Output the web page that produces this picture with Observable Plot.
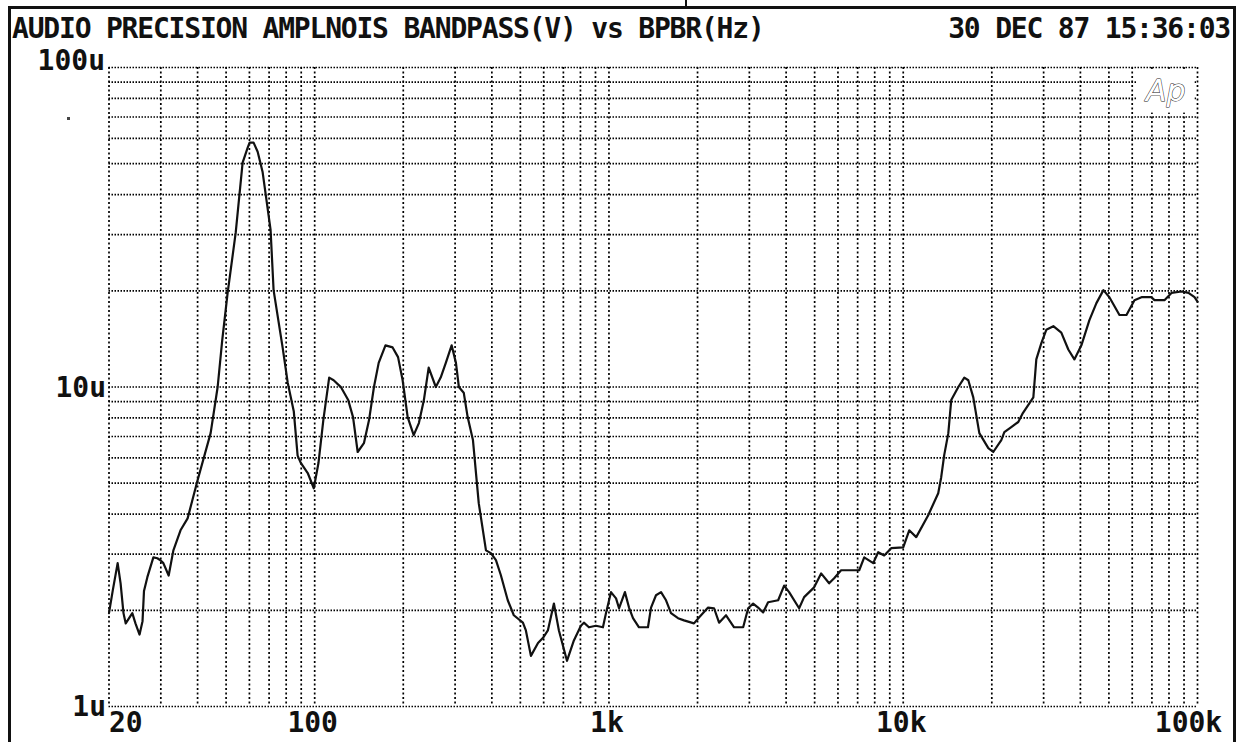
<!DOCTYPE html>
<html>
<head>
<meta charset="utf-8">
<script src="https://cdn.jsdelivr.net/npm/d3@7"></script>
<script src="https://cdn.jsdelivr.net/npm/@observablehq/plot@0.6"></script>
<style>
  html, body { margin: 0; padding: 0; background: #fff; }
  #wrap { position: relative; width: 1239px; height: 742px; overflow: hidden; background: #fff; }
  #chart { position: absolute; left: 0; top: 0; }
  .hdr { position: absolute; font-family: "DejaVu Sans Mono", monospace; font-weight: bold;
         font-size: 28px; line-height: 28px; letter-spacing: -1.2px; color: #111; white-space: pre; }
  #frame { position: absolute; left: 8px; top: 6px; width: 1222px; height: 760px;
           border: 3px solid #111; border-bottom: none; }
  #topmark { position: absolute; left: 685px; top: 0; width: 2px; height: 7px; background: #111; }
  #dot { position: absolute; left: 67px; top: 117px; width: 3px; height: 3px; background: #444; }
  svg text.lbl { letter-spacing: -1.2px; }
</style>
</head>
<body>
<div id="wrap">
  <div id="chart"></div>
  <div id="frame"></div>
  <div id="topmark"></div>
  <div id="dot"></div>
  <div class="hdr" id="title" style="left:12px; top:15px;">AUDIO PRECISION AMPLNOIS BANDPASS(V) vs BPBR(Hz)</div>
  <div class="hdr" id="date" style="right:9px; top:15px;">30 DEC 87 15:36:03</div>
</div>
<script>
// Frequency (Hz) of each trace point
const freqHz = [
  20, 20.6, 21.4, 21.9, 22.4, 22.8, 24.0, 24.6, 25.4, 26.0,
  26.3, 27.0, 28.3, 29.2, 29.9, 30.6, 31.9, 33.1, 35.0, 37.0,
  40.0, 44.3, 46.8, 48.5, 50.6, 53.9, 56.9, 59.2, 60.1, 62.0,
  64.0, 66.5, 70.8, 72.5, 77.8, 81.0, 84.9, 87.5, 89.6, 94.7,
  99.3, 103, 107, 112, 116, 123, 130, 135, 140, 147,
  153, 159, 165, 174, 184, 192, 199, 207, 217, 226,
  235, 244, 258, 268, 279, 292, 302, 309, 321, 331,
  345, 361, 382, 397, 413, 429, 453, 475, 510, 522,
  543, 574, 597, 620, 650, 676, 720, 760, 803, 822,
  855, 903, 954, 977, 1016, 1057, 1082, 1133, 1170, 1207,
  1265, 1357, 1390, 1445, 1503, 1563, 1625, 1717, 1799, 1945,
  2023, 2172, 2276, 2367, 2500, 2662, 2858, 2972, 3090, 3213,
  3341, 3474, 3758, 3938, 4095, 4428, 4605, 4980, 5260, 5600,
  5825, 6150, 7087, 7370, 7908, 8222, 8616, 9103, 10000, 10480,
  11070, 12160, 13150, 13460, 13780, 14230, 14560, 15390, 16130, 16640,
  17300, 18140, 19460, 20230, 21540, 22060, 23290, 24600, 25500, 27680,
  28330, 29450, 30630, 32370, 34450, 36390, 38160, 40310, 42920, 45340,
  47900, 50190, 54300, 57360, 61070, 64520, 69760, 71410, 77220, 81570,
  88220, 93190, 97700, 100000
];
// Bandpass noise amplitude (microvolts) at each frequency
const noiseUV = [
  1.96, 2.31, 2.81, 2.43, 1.96, 1.82, 1.96, 1.82, 1.68, 1.85,
  2.3, 2.54, 2.93, 2.91, 2.87, 2.81, 2.57, 3.08, 3.56, 3.88,
  5.11, 7.17, 10.0, 14.0, 19.7, 30.4, 50.4, 56.1, 58.2, 58.2,
  54.5, 47.2, 31.1, 20.1, 13.3, 10.3, 8.4, 6.1, 5.8, 5.38,
  4.82, 5.78, 7.88, 10.7, 10.5, 9.97, 9.10, 8.05, 6.26, 6.67,
  7.88, 10.0, 11.9, 13.5, 13.3, 12.4, 10.5, 8.05, 7.07, 7.71,
  9.10, 11.5, 10.0, 10.7, 11.9, 13.5, 11.9, 10.0, 9.6, 8.05,
  6.82, 4.33, 3.08, 3.02, 2.87, 2.58, 2.15, 1.93, 1.83, 1.73,
  1.44, 1.58, 1.64, 1.73, 2.10, 1.73, 1.39, 1.61, 1.79, 1.83,
  1.77, 1.79, 1.77, 1.96, 2.28, 2.18, 2.03, 2.28, 2.04, 1.89,
  1.77, 1.77, 2.04, 2.23, 2.28, 2.15, 1.96, 1.89, 1.86, 1.82,
  1.90, 2.04, 2.03, 1.83, 1.93, 1.77, 1.77, 2.03, 2.10, 2.04,
  1.97, 2.12, 2.15, 2.39, 2.28, 2.03, 2.20, 2.36, 2.61, 2.43,
  2.52, 2.67, 2.67, 2.93, 2.81, 3.04, 2.97, 3.13, 3.15, 3.56,
  3.39, 3.97, 4.65, 5.22, 6.12, 7.17, 9.10, 10.0, 10.7, 10.5,
  9.28, 7.17, 6.44, 6.26, 6.82, 7.22, 7.49, 7.77, 8.29, 9.28,
  12.2, 13.7, 15.1, 15.5, 14.8, 13.1, 12.2, 13.5, 16.2, 18.3,
  20.1, 19.1, 16.8, 16.8, 18.7, 19.1, 19.1, 18.7, 18.7, 19.7,
  19.9, 19.7, 19.1, 18.5
];

// Grid lines
const xGrid = [20, 30, 40, 50, 60, 70, 80, 90,
  100, 200, 300, 400, 500, 600, 700, 800, 900,
  1000, 2000, 3000, 4000, 5000, 6000, 7000, 8000, 9000,
  10000, 20000, 30000, 40000, 50000, 60000, 70000, 80000, 90000, 100000];
const yGrid = [1, 2, 3, 4, 5, 6, 7, 8, 9, 10, 20, 30, 40, 50, 60, 70, 80, 90, 100];

// Tick labels
const xTickVals = [20, 100, 1000, 10000, 100000];
const xTickLabels = ["20", "100", "1k", "10k", "100k"];
const yTickVals = [1, 10, 100];
const yTickLabels = ["1u", "10u", "100u"];

const trace = freqHz.map((f, i) => ({f, v: noiseUV[i]}));
const xt = xTickVals.map((v, i) => ({v, t: xTickLabels[i]}));
const yt = yTickVals.map((v, i) => ({v, t: yTickLabels[i]}));

const font = {fontFamily: "DejaVu Sans Mono", fontWeight: "bold", fontSize: 28, fill: "#111", className: "lbl"};

const chart = Plot.plot({
  width: 1239,
  height: 742,
  marginLeft: 108.5,
  marginRight: 42,
  marginTop: 67,
  marginBottom: 36,
  style: {background: "transparent", overflow: "visible"},
  x: {type: "log", domain: [20, 100000], axis: null},
  y: {type: "log", domain: [1, 100], axis: null},
  marks: [
    Plot.ruleY(yGrid, {stroke: "#000", strokeWidth: 1.7, strokeDasharray: "1.5,1.5"}),
    Plot.ruleX(xGrid, {stroke: "#000", strokeWidth: 1.7, strokeDasharray: "2,2.5"}),
    // "Ap" logo box
    Plot.rect([{x1: 62500, x2: 98000, y1: 72, y2: 98}], {x1: "x1", x2: "x2", y1: "y1", y2: "y2", fill: "white"}),
    Plot.text([{x: 78000, y: 84, t: "Ap"}], {x: "x", y: "y", text: "t", fontFamily: "DejaVu Sans", fontStyle: "italic",
      fontSize: 30, fill: "white", stroke: "#222", strokeWidth: 1}),
    Plot.line(trace, {x: "f", y: "v", stroke: "#111", strokeWidth: 2.2}),
    // y labels
    Plot.text(yt.filter(d => d.v === 100), {y: "v", text: "t", frameAnchor: "left", textAnchor: "end", dx: -4, dy: -6, ...font}),
    Plot.text(yt.filter(d => d.v !== 100), {y: "v", text: "t", frameAnchor: "left", textAnchor: "end", dx: -3, dy: 1, ...font}),
    // x labels
    Plot.text(xt.filter(d => d.v === 20), {x: "v", text: "t", frameAnchor: "bottom", lineAnchor: "top", textAnchor: "start", dx: 0, dy: 6, ...font}),
    Plot.text(xt.filter(d => d.v !== 20 && d.v !== 100000), {x: "v", text: "t", frameAnchor: "bottom", lineAnchor: "top", textAnchor: "middle", dx: -2, dy: 6, ...font}),
    Plot.text(xt.filter(d => d.v === 100000), {x: "v", text: "t", frameAnchor: "bottom", lineAnchor: "top", textAnchor: "middle", dx: -9, dy: 6, ...font})
  ]
});
document.getElementById("chart").appendChild(chart);
</script>
</body>
</html>
